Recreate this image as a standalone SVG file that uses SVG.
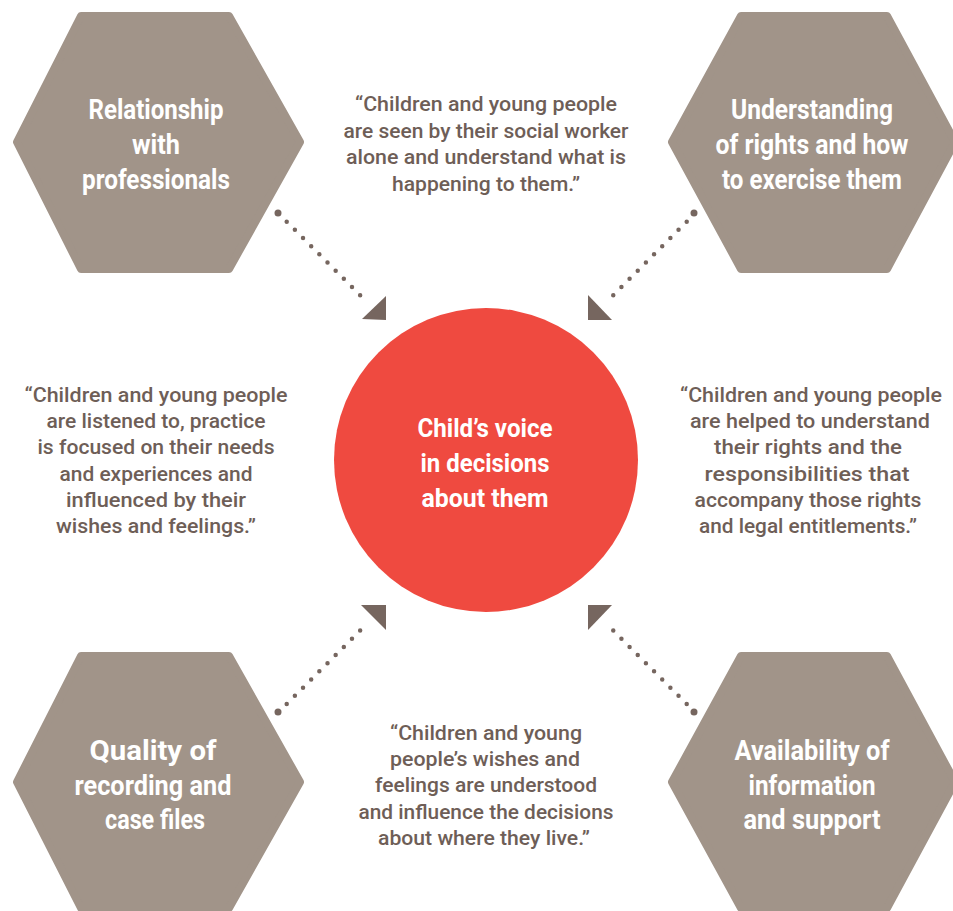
<svg xmlns="http://www.w3.org/2000/svg" width="953" height="911" viewBox="0 0 953 911">
  <style>
    .hex { fill: #A19489; stroke: #A19489; stroke-width: 8; stroke-linejoin: round; }
    .hexlabel { font-family: Roboto, "Liberation Sans", sans-serif; font-weight: 700; font-size: 27px; fill: #FFFFFF; text-anchor: middle; }
    .hublabel { font-family: Roboto, "Liberation Sans", sans-serif; font-weight: 700; font-size: 25px; fill: #FFFFFF; text-anchor: middle; }
    .quote { font-family: Roboto, "Liberation Sans", sans-serif; font-weight: 500; font-size: 21px; fill: #6E5E57; text-anchor: middle; }
    .dots { fill: none; stroke: #76665F; stroke-width: 4.5; stroke-linecap: round; stroke-dasharray: 0 11.54; }
    .head { fill: #76665F; }
    .tail { fill: #76665F; }
  </style>

  <!-- central hub -->
  <g id="hub">
    <circle cx="486" cy="460" r="152" fill="#EF4A40"/>
    <text class="hublabel" x="485" y="437" textLength="135" lengthAdjust="spacingAndGlyphs">Child’s voice</text>
    <text class="hublabel" x="485" y="472" textLength="129" lengthAdjust="spacingAndGlyphs">in decisions</text>
    <text class="hublabel" x="485" y="507" textLength="127" lengthAdjust="spacingAndGlyphs">about them</text>
  </g>

  <!-- corner themes -->
  <g id="relationship">
    <polygon class="hex" points="81,16 229,16 300,142 229,269 81,269 17,142"/>
    <text class="hexlabel" x="156" y="119" textLength="135" lengthAdjust="spacingAndGlyphs">Relationship</text>
    <text class="hexlabel" x="156" y="154" textLength="48" lengthAdjust="spacingAndGlyphs">with</text>
    <text class="hexlabel" x="156" y="189" textLength="148" lengthAdjust="spacingAndGlyphs">professionals</text>
  </g>

  <g id="rights">
    <polygon class="hex" points="741,16 887,16 955,142 887,269 741,269 672,142"/>
    <text class="hexlabel" x="812" y="119" textLength="162" lengthAdjust="spacingAndGlyphs">Understanding</text>
    <text class="hexlabel" x="812" y="154" textLength="193" lengthAdjust="spacingAndGlyphs">of rights and how</text>
    <text class="hexlabel" x="812" y="189" textLength="180" lengthAdjust="spacingAndGlyphs">to exercise them</text>
  </g>

  <g id="recording">
    <polygon class="hex" points="81,656 229,656 300,782 229,908 81,908 17,782"/>
    <text class="hexlabel" x="153" y="760" textLength="127" lengthAdjust="spacingAndGlyphs">Quality of</text>
    <text class="hexlabel" x="153" y="795" textLength="157" lengthAdjust="spacingAndGlyphs">recording and</text>
    <text class="hexlabel" x="155" y="829" textLength="100" lengthAdjust="spacingAndGlyphs">case files</text>
  </g>

  <g id="information">
    <polygon class="hex" points="741,656 887,656 955,782 887,908 741,908 672,782"/>
    <text class="hexlabel" x="812" y="760" textLength="155" lengthAdjust="spacingAndGlyphs">Availability of</text>
    <text class="hexlabel" x="812" y="795" textLength="127" lengthAdjust="spacingAndGlyphs">information</text>
    <text class="hexlabel" x="812" y="829" textLength="137" lengthAdjust="spacingAndGlyphs">and support</text>
  </g>

  <!-- dotted connectors pointing into the hub -->
  <g id="connectors">
    <circle class="tail" cx="278" cy="213" r="3.5"/>
    <path class="dots" d="M286.7 221.7 L368.3 303.3"/>
    <polygon class="head" points="362,319 386,296 386,320"/>

    <circle class="tail" cx="694" cy="213" r="3.5"/>
    <path class="dots" d="M686.7 221.7 L605.1 303.3"/>
    <polygon class="head" points="588,295 588,320 612,320"/>

    <circle class="tail" cx="278" cy="712" r="3.5"/>
    <path class="dots" d="M286.7 704 L368.3 622.4"/>
    <polygon class="head" points="361,605 386,605 386,630"/>

    <circle class="tail" cx="694" cy="712" r="3.5"/>
    <path class="dots" d="M686.7 704 L605.1 622.4"/>
    <polygon class="head" points="612,605 588,605 588,630"/>
  </g>

  <!-- quotations -->
  <g id="quote-top">
    <text class="quote" x="486" y="111" textLength="262" lengthAdjust="spacingAndGlyphs">“Children and young people</text>
    <text class="quote" x="486" y="138" textLength="285" lengthAdjust="spacingAndGlyphs">are seen by their social worker</text>
    <text class="quote" x="486" y="164" textLength="280" lengthAdjust="spacingAndGlyphs">alone and understand what is</text>
    <text class="quote" x="486" y="191" textLength="188" lengthAdjust="spacingAndGlyphs">happening to them.”</text>
  </g>

  <g id="quote-left">
    <text class="quote" x="156" y="402" textLength="263" lengthAdjust="spacingAndGlyphs">“Children and young people</text>
    <text class="quote" x="156" y="428" textLength="219" lengthAdjust="spacingAndGlyphs">are listened to, practice</text>
    <text class="quote" x="156" y="454" textLength="237" lengthAdjust="spacingAndGlyphs">is focused on their needs</text>
    <text class="quote" x="156" y="481" textLength="193" lengthAdjust="spacingAndGlyphs">and experiences and</text>
    <text class="quote" x="156" y="507" textLength="180" lengthAdjust="spacingAndGlyphs">influenced by their</text>
    <text class="quote" x="156" y="533" textLength="200" lengthAdjust="spacingAndGlyphs">wishes and feelings.”</text>
  </g>

  <g id="quote-right">
    <text class="quote" x="811" y="402" textLength="262" lengthAdjust="spacingAndGlyphs">“Children and young people</text>
    <text class="quote" x="810" y="428" textLength="240" lengthAdjust="spacingAndGlyphs">are helped to understand</text>
    <text class="quote" x="808" y="454" textLength="188" lengthAdjust="spacingAndGlyphs">their rights and the</text>
    <text class="quote" x="807" y="481" textLength="205" lengthAdjust="spacingAndGlyphs">responsibilities that</text>
    <text class="quote" x="808" y="507" textLength="227" lengthAdjust="spacingAndGlyphs">accompany those rights</text>
    <text class="quote" x="808" y="533" textLength="218" lengthAdjust="spacingAndGlyphs">and legal entitlements.”</text>
  </g>

  <g id="quote-bottom">
    <text class="quote" x="486" y="740" textLength="192" lengthAdjust="spacingAndGlyphs">“Children and young</text>
    <text class="quote" x="485" y="766" textLength="190" lengthAdjust="spacingAndGlyphs">people’s wishes and</text>
    <text class="quote" x="486" y="792" textLength="222" lengthAdjust="spacingAndGlyphs">feelings are understood</text>
    <text class="quote" x="486" y="819" textLength="255" lengthAdjust="spacingAndGlyphs">and influence the decisions</text>
    <text class="quote" x="484" y="845" textLength="212" lengthAdjust="spacingAndGlyphs">about where they live.”</text>
  </g>
</svg>
